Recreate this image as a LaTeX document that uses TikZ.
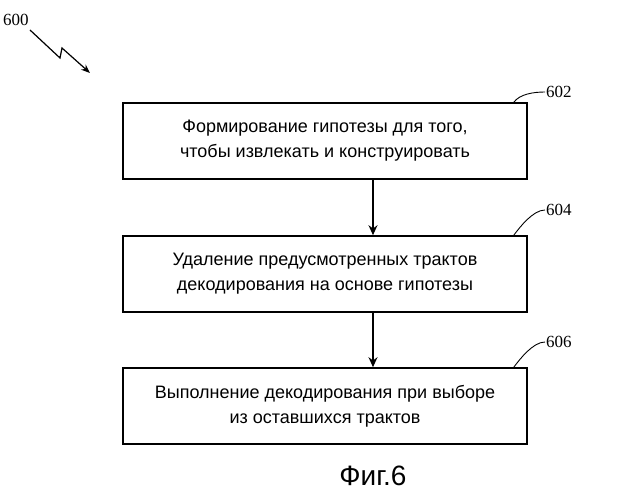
\documentclass[tikz,border=0pt]{standalone}
\usepackage{fontspec}
\setmainfont{Liberation Sans}
\newfontfamily\lblfont{Liberation Serif}
\usetikzlibrary{arrows.meta}
\begin{document}
\begin{tikzpicture}[x=1pt,y=-1pt,
  stepbox/.style={draw,line width=1.6pt,minimum width=404pt,minimum height=76pt,align=center,font=\fontsize{18}{25}\selectfont},
  conn/.style={line width=1.4pt,-{Stealth[length=10pt,width=9pt]}},
  lead/.style={line width=0.9pt},
  lbl/.style={font=\lblfont\fontsize{17}{17}\selectfont}]
\useasboundingbox (0,0) rectangle (640,500);
\node[stepbox] (b1) at (325,141) {Формирование гипотезы для того,\\чтобы извлекать и конструировать};
\node[stepbox] (b2) at (325,274) {Удаление предусмотренных трактов\\декодирования на основе гипотезы};
\node[stepbox] (b3) at (325,406) {Выполнение декодирования при выборе\\из оставшихся трактов};
\draw[conn] ([xshift=48pt]b1.south) -- ([xshift=48pt]b2.north);
\draw[conn] ([xshift=48pt]b2.south) -- ([xshift=48pt]b3.north);
\node[lbl,anchor=west,inner sep=1pt] (l602) at (545,92) {602};
\node[lbl,anchor=west,inner sep=1pt] (l604) at (545,210) {604};
\node[lbl,anchor=west,inner sep=1pt] (l606) at (545,342) {606};
\draw[lead] ([xshift=-14pt]b1.north east) .. controls +(6,-8) and +(-12,0) .. (l602.west);
\draw[lead] ([xshift=-14pt]b2.north east) .. controls +(6,-8) and +(-12,0) .. (l604.west);
\draw[lead] ([xshift=-14pt]b3.north east) .. controls +(6,-8) and +(-12,0) .. (l606.west);
\node[lbl,anchor=west,inner sep=1pt] (l600) at (2,20) {600};
\coordinate (z0) at (30,30);
\coordinate (z1) at (60,58);
\coordinate (z2) at (62,48);
\coordinate (z3) at (90,73);
\draw[lead,line width=1.2pt,-{Stealth[length=9pt,width=7pt]}] (z0) -- (z1) -- (z2) -- (z3);
\node (cap) at (373,476) {\fontsize{28}{28}\selectfont Фиг.6};
\end{tikzpicture}
\end{document}
